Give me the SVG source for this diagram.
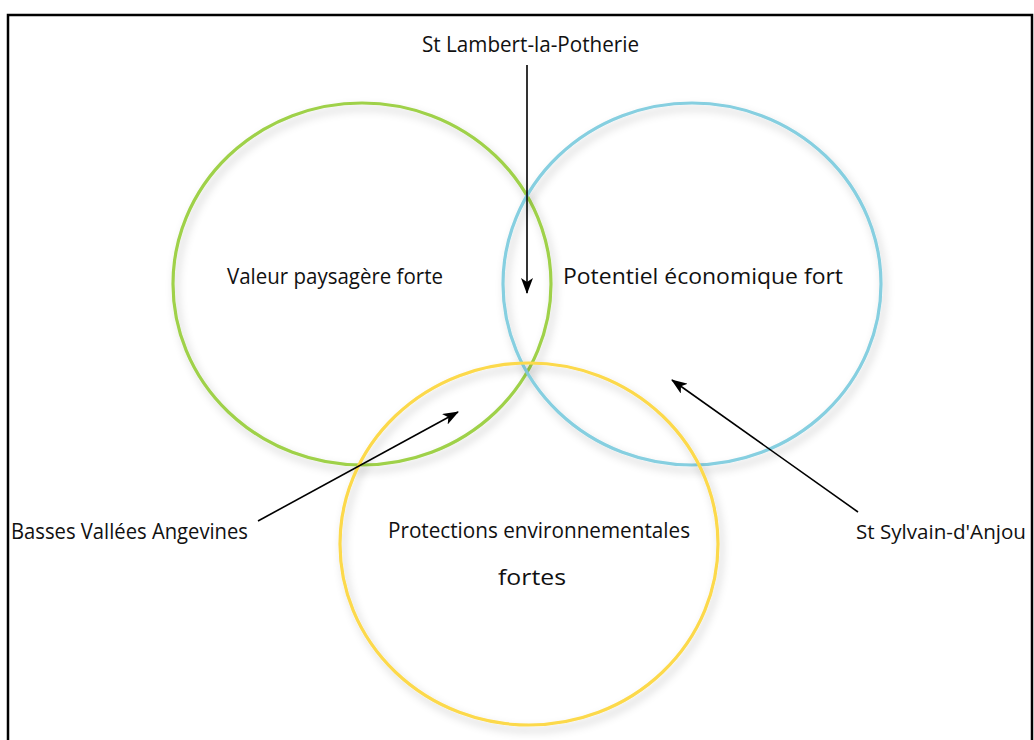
<svg xmlns="http://www.w3.org/2000/svg" width="1034" height="740" viewBox="0 0 1034 740">
<defs>
<style>
.c{fill:none;stroke-width:3.2;filter:url(#sh)}
.t{font-family:"Open Sans","Noto Sans",sans-serif;font-size:22.5px;fill:#111}
.a{stroke:#000;stroke-width:1.6;fill:none;marker-end:url(#ah)}
</style>
<filter id="sh" x="-10%" y="-10%" width="120%" height="125%">
<feDropShadow dx="3" dy="5" stdDeviation="4" flood-color="#000" flood-opacity="0.22"/>
</filter>
<marker id="ah" viewBox="0 0 16 12" refX="15" refY="6" markerWidth="16" markerHeight="12" markerUnits="userSpaceOnUse" orient="auto">
<path d="M0,0 L16,6 L0,12 L4,6 Z" fill="#000"/>
</marker>
</defs>
<rect x="0" y="0" width="1034" height="740" fill="#fff"/>
<rect x="8" y="15" width="1024" height="740" fill="none" stroke="#000" stroke-width="2.5"/>
<g id="circle-valeur">
<ellipse class="c" cx="362" cy="284" rx="189" ry="181" stroke="#9fd14a"/>
<text class="t" x="227" y="284" textLength="216" lengthAdjust="spacingAndGlyphs">Valeur paysagère forte</text>
</g>
<g id="circle-potentiel">
<ellipse class="c" cx="692" cy="284" rx="189" ry="181" stroke="#86cfe0"/>
<text class="t" x="563" y="284" textLength="280" lengthAdjust="spacingAndGlyphs">Potentiel économique fort</text>
</g>
<g id="circle-protections">
<ellipse class="c" cx="529" cy="544" rx="189" ry="181" stroke="#fcd94c"/>
<text class="t" x="388" y="538" textLength="302" lengthAdjust="spacingAndGlyphs">Protections environnementales</text>
<text class="t" x="498" y="585" textLength="68" lengthAdjust="spacingAndGlyphs">fortes</text>
</g>
<g id="label-lambert">
<text class="t" x="422" y="52" textLength="217" lengthAdjust="spacingAndGlyphs">St Lambert-la-Potherie</text>
</g>
<g id="label-basses">
<text class="t" x="11" y="539" textLength="237" lengthAdjust="spacingAndGlyphs">Basses Vallées Angevines</text>
</g>
<g id="label-sylvain">
<text class="t" x="856" y="539" style="font-size:20px" textLength="170" lengthAdjust="spacingAndGlyphs">St Sylvain-d'Anjou</text>
</g>
<g id="connectors">
<line class="a" x1="527" y1="65" x2="527" y2="293"/>
<line class="a" x1="258" y1="521" x2="458" y2="412"/>
<line class="a" x1="858" y1="512" x2="672" y2="380"/>
</g>
</svg>
